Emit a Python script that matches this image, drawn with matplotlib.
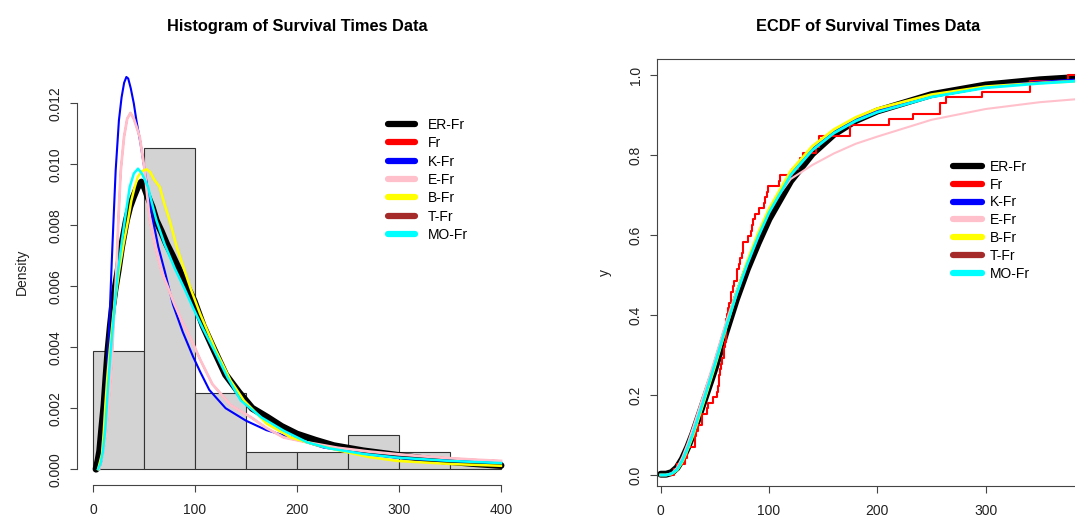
import matplotlib
matplotlib.use("Agg")
import matplotlib.pyplot as plt
import numpy as np

plt.rcParams['font.family'] = ['Liberation Sans', 'DejaVu Sans']

# survival times (guinea pigs), read back from the histogram / ECDF steps
survival = [12, 15, 22, 24, 24, 32, 32, 33, 34, 38, 38, 43, 44, 48, 52, 53, 54, 54,
            55, 56, 57, 58, 58, 59, 60, 60, 60, 60, 61, 62, 63, 65, 65, 67, 68, 70,
            70, 72, 73, 75, 76, 76, 81, 83, 84, 85, 87, 91, 95, 96, 98, 99, 109, 110,
            121, 127, 129, 131, 143, 146, 146, 175, 175, 211, 233, 258, 258, 263,
            297, 341, 341, 376]
bins = [0, 50, 100, 150, 200, 250, 300, 350, 400]

names = ['ER-Fr', 'Fr', 'K-Fr', 'E-Fr', 'B-Fr', 'T-Fr', 'MO-Fr']
colors = ['black', 'red', 'blue', 'pink', 'yellow', 'brown', 'cyan']

# fitted densities (left panel)
er_x = [3, 5, 6.6, 8.5, 10.8, 12.7, 14.7, 17, 19, 21.5, 24.5, 28, 32.7, 36, 39.6, 43.5,
        47.5, 50.5, 53.9, 58, 62, 67, 72, 78, 85, 92, 99, 108, 119, 130, 143, 156, 171,
        185, 200, 218, 236, 265, 297, 325, 350, 375, 400]
er_y = [0, 0.0003, 0.0006, 0.0013, 0.0021, 0.003, 0.0039, 0.0047, 0.0053, 0.0059,
        0.0065, 0.0073, 0.00816, 0.0086, 0.00893, 0.00925, 0.00942, 0.00925, 0.00893,
        0.0086, 0.00816, 0.0078, 0.0074, 0.007, 0.0065, 0.006, 0.00553, 0.0047, 0.00389,
        0.0031, 0.00252, 0.002, 0.0017, 0.0014, 0.00115, 0.00095, 0.00077, 0.0006,
        0.00046, 0.00034, 0.00025, 0.00018, 0.00012]
k_x = [6, 8.2, 10, 12.1, 14.7, 16.5, 18, 20, 22.2, 25.4, 28, 30.5, 32.7, 34.5, 37, 40,
       42.5, 46.5, 50.7, 54.5, 58.8, 64, 70.3, 78.4, 88, 98, 105, 114, 130, 150, 170,
       194, 226, 270, 314, 360, 400]
k_y = [0, 0.00027, 0.0011, 0.0021, 0.0039, 0.0052, 0.0065, 0.0081, 0.0098, 0.01145,
       0.0122, 0.01268, 0.01287, 0.01282, 0.0125, 0.012, 0.01145, 0.0107, 0.0098, 0.009,
       0.00816, 0.0073, 0.0065, 0.0054, 0.0045, 0.0037, 0.0032, 0.0026, 0.002, 0.00159,
       0.00128, 0.00104, 0.00071, 0.00048, 0.00033, 0.00026, 0.00021]
e_x = [6, 10, 13, 15, 18, 20, 22.9, 25, 27.2, 30.4, 33.5, 36.7, 40, 43, 45.8, 50.7, 55.6,
       61, 67, 73, 80, 88, 96, 105, 117, 135, 155, 170, 187, 210, 240, 270, 298, 325,
       350, 375, 400]
e_y = [0, 0.0005, 0.0012, 0.002, 0.0033, 0.0047, 0.0065, 0.0083, 0.0098, 0.0109, 0.0115,
       0.01169, 0.0115, 0.0112, 0.0109, 0.0098, 0.00816, 0.0073, 0.0065, 0.006, 0.0054,
       0.0048, 0.00427, 0.0036, 0.00279, 0.0021, 0.0017, 0.00135, 0.00104, 0.00088,
       0.0007, 0.00058, 0.00049, 0.00042, 0.00036, 0.00031, 0.00027]
b_x = [5, 8.8, 10.5, 12.1, 14, 16.4, 20, 25.5, 30, 34.3, 37.5, 40.9, 44, 48, 52.4, 56, 60,
       65.4, 70, 75.2, 82, 89.9, 96, 105, 120.5, 135, 148, 170, 194, 218, 243, 270, 298,
       350, 400]
b_y = [0, 0.0005, 0.0012, 0.0021, 0.003, 0.0039, 0.0051, 0.0065, 0.0074, 0.00816, 0.0088,
       0.00926, 0.0096, 0.00978, 0.00984, 0.00975, 0.0095, 0.00926, 0.0087, 0.00816,
       0.0073, 0.0065, 0.0059, 0.0051, 0.00389, 0.0029, 0.00225, 0.0015, 0.00104, 0.0008,
       0.0006, 0.0004, 0.00027, 0.00017, 0.00011]
mo_x = [5, 7.5, 9.8, 12, 14.5, 17.4, 21, 24.5, 28, 31.1, 36, 40, 44.1, 48, 53.9, 58, 62.2,
        70, 80, 90, 98, 108, 119, 132, 145, 165, 187, 210, 232, 265, 298, 350, 400]
mo_y = [0, 0.0002, 0.0006, 0.0013, 0.0026, 0.0039, 0.0053, 0.0065, 0.0074, 0.00816,
        0.00926, 0.0097, 0.00986, 0.0097, 0.00926, 0.0087, 0.00816, 0.0074, 0.0066,
        0.0059, 0.0053, 0.0046, 0.00389, 0.003, 0.00225, 0.0017, 0.00126, 0.00088,
        0.00068, 0.0005, 0.00038, 0.00027, 0.0002]

# fitted distribution functions (right panel)
cdf_x = [0, 5, 10, 15, 20, 25, 30, 40, 50, 60, 70, 80, 90, 100, 120, 140, 160, 180,
         200, 250, 300, 350, 386]
er_cdf = [0.002, 0.002, 0.006, 0.018, 0.04, 0.07, 0.105, 0.185, 0.265, 0.355, 0.44,
          0.515, 0.58, 0.64, 0.735, 0.803, 0.852, 0.886, 0.91, 0.951, 0.975, 0.988, 0.994]
k_cdf = [0, 0, 0.004, 0.015, 0.037, 0.068, 0.105, 0.19, 0.28, 0.37, 0.455, 0.53, 0.6,
         0.66, 0.752, 0.815, 0.858, 0.888, 0.91, 0.948, 0.97, 0.982, 0.988]
e_cdf = [0, 0, 0.004, 0.018, 0.045, 0.08, 0.12, 0.205, 0.29, 0.38, 0.46, 0.53, 0.6,
         0.665, 0.74, 0.775, 0.804, 0.828, 0.846, 0.888, 0.915, 0.932, 0.94]
b_cdf = [0, 0, 0.003, 0.012, 0.033, 0.065, 0.1, 0.185, 0.272, 0.365, 0.455, 0.535, 0.605,
         0.665, 0.76, 0.822, 0.864, 0.894, 0.916, 0.951, 0.971, 0.98, 0.985]
t_cdf = [0, 0, 0.004, 0.015, 0.038, 0.07, 0.107, 0.19, 0.277, 0.366, 0.45, 0.526, 0.594,
         0.654, 0.748, 0.81, 0.853, 0.884, 0.906, 0.945, 0.968, 0.98, 0.986]
mo_cdf = [0, 0, 0.003, 0.013, 0.036, 0.068, 0.105, 0.19, 0.277, 0.367, 0.452, 0.528,
          0.596, 0.656, 0.75, 0.812, 0.855, 0.885, 0.907, 0.945, 0.968, 0.979, 0.985]

W, H = 1075, 517
fig = plt.figure(figsize=(W / 100, H / 100), dpi=100)
axc = '#444444'
txt = '#222222'

# ---------- left: histogram ----------
ax1 = fig.add_axes([76.7 / W, 1 - 485 / H, 440.6 / W, 426 / H])
ax1.hist(survival, bins=bins, density=True, color='#D3D3D3', edgecolor='#333333',
         linewidth=0.8)
ax1.plot(er_x, er_y, color='black', lw=5, solid_capstyle='round')
ax1.plot(e_x, e_y, color='red', lw=1.2)
ax1.plot(e_x, e_y, color='brown', lw=1, ls=(0, (4, 6)))
ax1.plot(k_x, k_y, color='blue', lw=1.5)
ax1.plot(e_x, e_y, color='pink', lw=2)
ax1.plot(b_x, b_y, color='yellow', lw=1.8)
ax1.plot(mo_x, mo_y, color='cyan', lw=1.8)
ax1.set_xlim(-16, 416)
ax1.set_ylim(-0.00052, 0.01346)
for s in ['top', 'right']:
    ax1.spines[s].set_visible(False)
ax1.spines['left'].set_bounds(0, 0.012)
ax1.spines['bottom'].set_bounds(0, 400)
ax1.set_xticks([0, 100, 200, 300, 400])
ax1.set_yticks(np.arange(0, 0.0121, 0.002))
ax1.set_yticklabels(['%.3f' % v for v in np.arange(0, 0.0121, 0.002)],
                    rotation=90, va='center')
ax1.set_ylabel('Density', fontsize=10, color=txt, labelpad=14)
ax1.set_title('Histogram of Survival Times Data', fontsize=11.8, fontweight='bold',
              pad=20)

# ---------- right: ECDF ----------
ax2 = fig.add_axes([656.7 / W, 1 - 486 / H, 422.3 / W, 427 / H])
srt = np.sort(survival)
ecdf_x = np.concatenate([[0], srt, [386]])
ecdf_y = np.concatenate([[0], np.arange(1, len(srt) + 1) / len(srt), [1]])
ax2.plot(cdf_x, er_cdf, color='black', lw=5, solid_capstyle='round')
ax2.step(ecdf_x, ecdf_y, where='post', color='red', lw=1.5)
ax2.plot(cdf_x, k_cdf, color='blue', lw=2)
ax2.plot(cdf_x, e_cdf, color='pink', lw=1.5)
ax2.plot(cdf_x, b_cdf, color='yellow', lw=2)
ax2.plot(cdf_x, t_cdf, color='brown', lw=1)
ax2.plot(cdf_x, mo_cdf, color='cyan', lw=2)
ax2.set_xlim(-3.7, 386.2)
ax2.set_ylim(-0.0275, 1.04)
ax2.set_xticks([0, 100, 200, 300])
ax2.set_yticks([0, 0.2, 0.4, 0.6, 0.8, 1.0])
ax2.set_yticklabels(['0.0', '0.2', '0.4', '0.6', '0.8', '1.0'], rotation=90,
                    va='center')
for s in ax2.spines.values():
    s.set_color(axc)
    s.set_linewidth(0.8)
ax2.set_ylabel('y', fontsize=10, color=txt, labelpad=12)
ax2.set_title('ECDF of Survival Times Data', fontsize=11.8, fontweight='bold', pad=20)

for ax in (ax1, ax2):
    ax.tick_params(axis='both', labelsize=10, colors=axc, labelcolor=txt, length=5,
                   width=0.8)
    ax.tick_params(axis='x', pad=8)
    ax.tick_params(axis='y', pad=5)
    for s in ['left', 'bottom']:
        ax.spines[s].set_color(axc)
        ax.spines[s].set_linewidth(0.8)

# legends
handles = [plt.Line2D([], [], color=c, lw=4.5, solid_capstyle='round') for c in colors]
fig.legend(handles, names, loc='upper left', bbox_to_anchor=(388 / W, 1 - 118 / H),
           frameon=False, fontsize=10, handlelength=1.94, handletextpad=0.94,
           labelspacing=0.31, borderpad=0, borderaxespad=0)
fig.legend(handles, names, loc='upper left', bbox_to_anchor=(953 / W, 1 - 160 / H),
           frameon=False, fontsize=10, handlelength=2.1, handletextpad=0.58,
           labelspacing=0.27, borderpad=0, borderaxespad=0)

fig.savefig('out.png', dpi=100)
